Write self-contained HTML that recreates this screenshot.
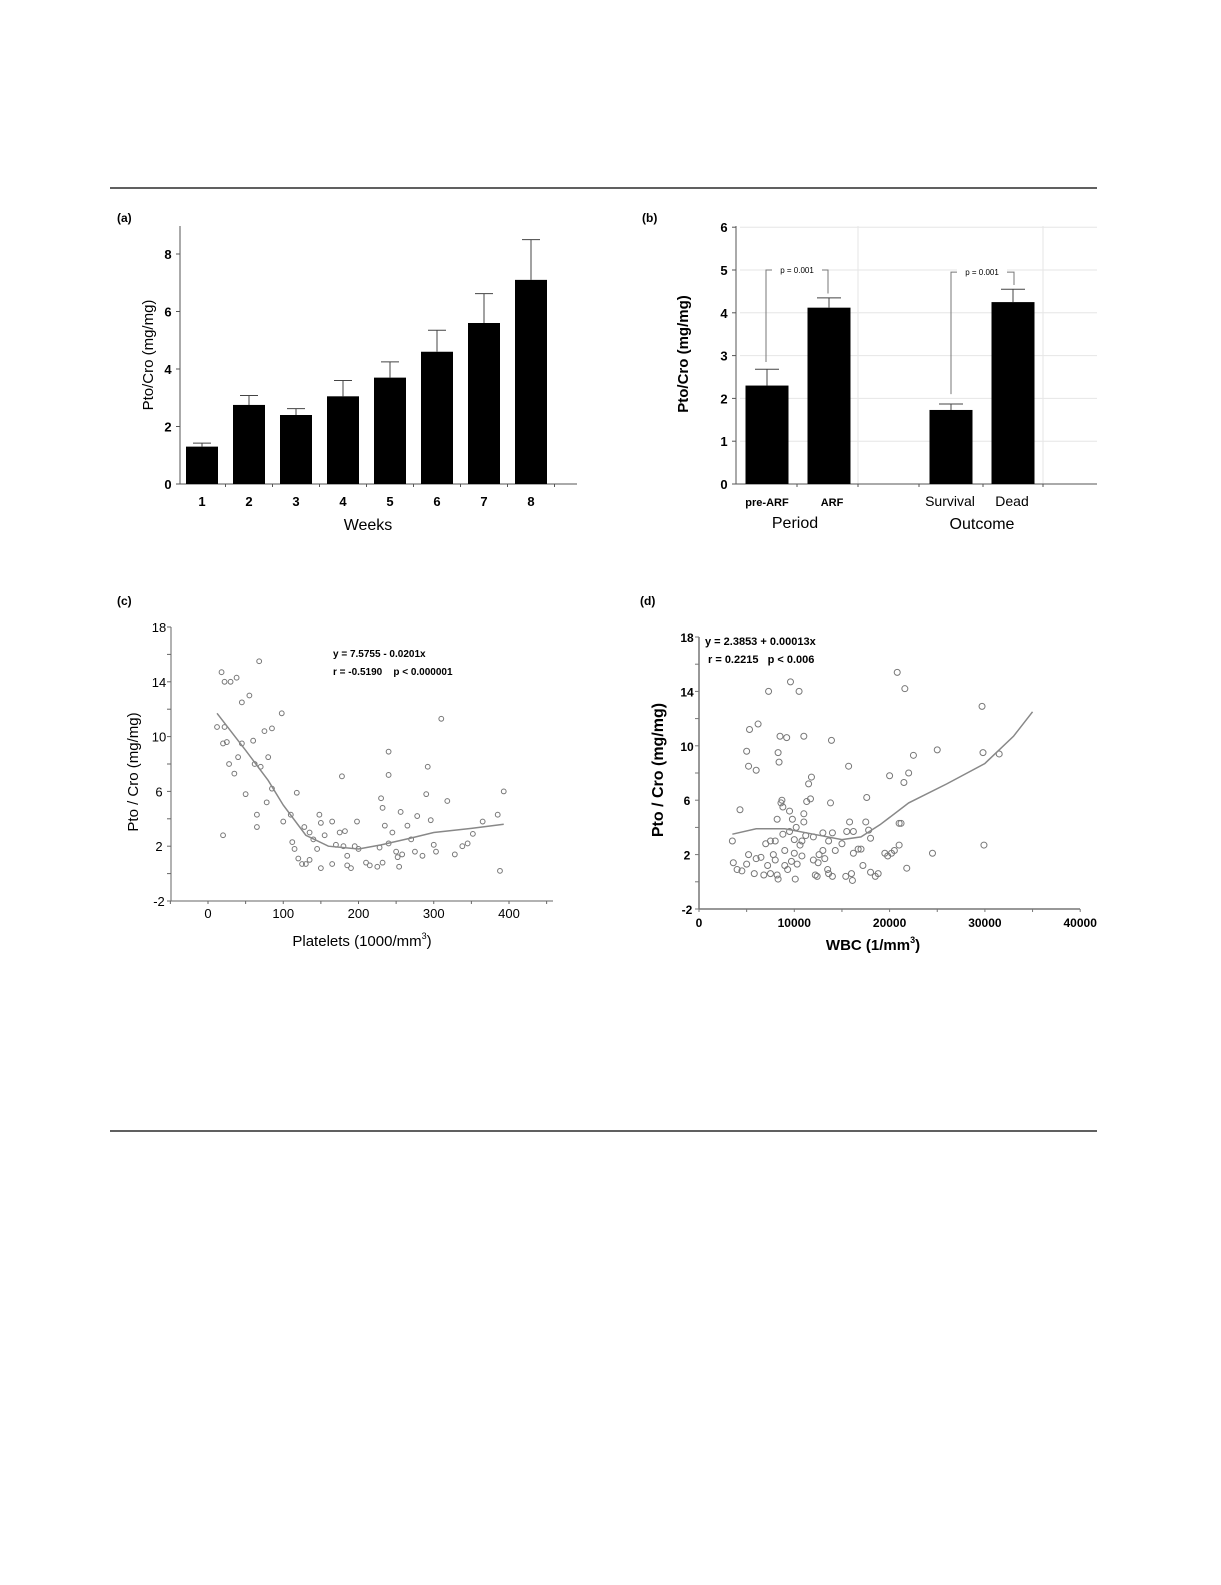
<!DOCTYPE html>
<html><head><meta charset="utf-8"><style>
html,body{margin:0;padding:0;background:#fff;}
svg{display:block;font-family:"Liberation Sans",Arial,sans-serif;}
</style></head><body>
<svg id="s" width="1221" height="1585" viewBox="0 0 1221 1585" xmlns="http://www.w3.org/2000/svg">
<rect width="1221" height="1585" fill="#fff"/>
<line x1="110" y1="188" x2="1097" y2="188" stroke="#000" stroke-width="1.2"/>
<line x1="110" y1="1131" x2="1097" y2="1131" stroke="#000" stroke-width="1.2"/>
<g id="g"></g>
</svg>
<script>
var g=document.getElementById('g'),h='';
function L(x1,y1,x2,y2,c,w){h+='<line x1="'+x1+'" y1="'+y1+'" x2="'+x2+'" y2="'+y2+'" stroke="'+(c||'#000')+'" stroke-width="'+(w||1)+'"/>';}
function T(x,y,t,s,a,b,extra){h+='<text x="'+x+'" y="'+y+'" font-size="'+s+'" text-anchor="'+(a||'middle')+'"'+(b?' font-weight="bold"':'')+(extra||'')+'>'+t+'</text>';}
function R(x,y,w,hh){h+='<rect x="'+x+'" y="'+y+'" width="'+w+'" height="'+hh+'" fill="#000"/>';}
// Panel a
var ax=180,a0=484,au=28.75;
T(117,222,'(a)',12,'start',true);
L(ax,226,ax,a0,'#555');L(ax,a0,577,a0,'#555');
[0,2,4,6,8].forEach(function(v){var y=a0-v*au;L(ax-4,y,ax,y,'#555');T(ax-12,y+5,v,13,'middle',true);});
var av=[1.3,2.75,2.4,3.05,3.7,4.6,5.6,7.1],ae=[1.42,3.08,2.62,3.6,4.25,5.35,6.62,8.5];
for(var i=0;i<8;i++){var c=202+i*47;R(c-16,a0-av[i]*au,32,av[i]*au);L(c,a0-av[i]*au,c,a0-ae[i]*au,'#444');L(c-9,a0-ae[i]*au,c+9,a0-ae[i]*au,'#444');T(c,506,i+1,13,'middle',true);L(c+23.5,a0,c+23.5,a0+3,'#555');}
T(368,530,'Weeks',16);
T(0,0,'Pto/Cro (mg/mg)',15,'middle',false,' transform="translate(153,355) rotate(-90)"');
// Panel b
var bx=736,b0=484,bu=42.8;
T(642,222,'(b)',12,'start',true);
for(var v=1;v<=6;v++){L(740,b0-v*bu,1097,b0-v*bu,'#e6e6e6');}
L(858,226,858,b0,'#e6e6e6');L(1043,226,1043,b0,'#e6e6e6');
L(bx,226,bx,b0,'#555');L(bx,b0,1097,b0,'#555');
for(var v=0;v<=6;v++){var y=b0-v*bu;L(bx-4,y,bx,y,'#555');T(bx-12,y+5,v,13,'middle',true);}
[797,858,919,983,1043].forEach(function(x){L(x,b0,x,b0+3,'#555');});
var bc=[767,829,951,1013],bv=[2.3,4.12,1.73,4.25],be=[2.68,4.35,1.87,4.55];
for(var i=0;i<4;i++){var c=bc[i];R(c-21.5,b0-bv[i]*bu,43,bv[i]*bu);L(c,b0-bv[i]*bu,c,b0-be[i]*bu,'#444');L(c-12,b0-be[i]*bu,c+12,b0-be[i]*bu,'#444');}
var Y=function(v){return b0-v*bu;};
h+='<polyline points="766,'+Y(2.85)+' 766,'+Y(5.0)+' 828,'+Y(5.0)+' 828,'+Y(4.45)+'" fill="none" stroke="#777"/>';
h+='<polyline points="951,'+Y(2.1)+' 951,'+Y(4.95)+' 1014,'+Y(4.95)+' 1014,'+Y(4.65)+'" fill="none" stroke="#777"/>';
h+='<rect x="772" y="'+(Y(5.0)-5)+'" width="50" height="10" fill="#fff"/><rect x="957" y="'+(Y(4.95)-5)+'" width="50" height="10" fill="#fff"/>';
T(797,Y(5.0)+3,'p = 0.001',8);T(982,Y(4.95)+3,'p = 0.001',8);
T(767,506,'pre-ARF',11,'middle',true);T(832,506,'ARF',11,'middle',true);
T(950,506,'Survival',14);T(1012,506,'Dead',14);
T(795,528,'Period',16);T(982,529,'Outcome',16);
T(0,0,'Pto/Cro (mg/mg)',15,'middle',true,' transform="translate(688,354) rotate(-90)"');
// Panel c
var cx=171,cy18=627,cu=13.7,cx0=208,cxu=0.7525;
function CX(v){return cx0+v*cxu;}function CY(v){return cy18+(18-v)*cu;}
T(117,605,'(c)',12,'start',true);
L(cx,CY(18),cx,CY(-2),'#666');L(cx,CY(-2),553,CY(-2),'#666');
for(var v=-2;v<=18;v+=2){L(cx-4,CY(v),cx,CY(v),'#666');if((v+2)%4==0)T(cx-12,CY(v)+5,v,13);}
for(var v=-50;v<=450;v+=50){L(CX(v),CY(-2),CX(v),CY(-2)+3,'#666');if(v>=0&&v<=400&&v%100==0)T(CX(v),918,v,13);}
T(362,946,'Platelets (1000/mm<tspan font-size="9" dy="-7">3</tspan><tspan dy="7">)</tspan>',15);
T(0,0,'Pto / Cro (mg/mg)',15,'middle',false,' transform="translate(138,772) rotate(-90)"');
T(333,657,'y = 7.5755 - 0.0201x',10,'start',true);T(333,675,'r = -0.5190&#160;&#160;&#160;&#160;p &lt; 0.000001',10,'start',true);
var pc=[[18,14.7],[22,14],[30,14],[38,14.3],[45,12.5],[55,13],[68,15.5],[98,11.7],[12,10.7],[22,10.7],[20,9.5],[25,9.6],[45,9.5],[40,8.5],[28,8],[35,7.3],[60,9.7],[75,10.4],[85,10.6],[80,8.5],[70,7.8],[62,8],[50,5.8],[78,5.2],[85,6.2],[65,4.3],[65,3.4],[20,2.8],[100,3.8],[110,4.3],[118,5.9],[112,2.3],[115,1.8],[120,1.1],[125,0.7],[130,0.7],[135,1],[128,3.4],[135,3],[140,2.5],[145,1.8],[148,4.3],[150,3.7],[150,0.4],[155,2.8],[165,3.8],[165,0.7],[170,2.1],[175,3],[178,7.1],[182,3.1],[180,2],[185,1.3],[185,0.6],[190,0.4],[195,2],[198,3.8],[200,1.8],[210,0.8],[215,0.6],[225,0.5],[228,1.9],[230,5.5],[232,4.8],[232,0.8],[235,3.5],[240,8.9],[240,7.2],[240,2.2],[245,3],[250,1.6],[252,1.2],[254,0.5],[256,4.5],[258,1.4],[265,3.5],[270,2.5],[275,1.6],[278,4.2],[285,1.3],[290,5.8],[292,7.8],[296,3.9],[300,2.1],[303,1.6],[310,11.3],[318,5.3],[328,1.4],[338,2],[345,2.2],[352,2.9],[365,3.8],[385,4.3],[388,0.2],[393,6]];
pc.forEach(function(p){h+='<circle cx="'+CX(p[0])+'" cy="'+CY(p[1])+'" r="2.4" fill="none" stroke="#777" stroke-width="1"/>';});
var cc=[[12,11.7],[50,9],[80,6.8],[100,5],[130,2.8],[160,2.0],[200,1.8],[230,2.1],[270,2.6],[300,3.0],[350,3.3],[393,3.6]];
h+='<polyline fill="none" stroke="#888" stroke-width="1.5" points="'+cc.map(function(p){return CX(p[0])+','+CY(p[1]);}).join(' ')+'"/>';
// Panel d
var dx=699,dy18=637,du=13.6,dxu=9.53;
function DX(v){return dx+v*dxu;}function DY(v){return dy18+(18-v)*du;}
T(640,605,'(d)',12,'start',true);
L(dx,DY(18),dx,DY(-2),'#777',1.5);L(dx,DY(-2),1080,DY(-2),'#777',1.5);
for(var v=-2;v<=18;v+=2){L(dx-4,DY(v),dx,DY(v),'#777');if((v+2)%4==0)T(dx-12,DY(v)+5,v,12,'middle',true);}
for(var v=0;v<=40;v+=5){L(DX(v),DY(-2),DX(v),DY(-2)+3,'#777');if(v%10==0)T(DX(v),927,v==0?'0':v*1000,12,'middle',true);}
T(873,950,'WBC (1/mm<tspan font-size="9" dy="-7">3</tspan><tspan dy="7">)</tspan>',15,'middle',true);
T(0,0,'Pto / Cro (mg/mg)',16,'middle',true,' transform="translate(663,770) rotate(-90)"');
T(705,645,'y = 2.3853 + 0.00013x',11,'start',true);T(708,663,'r = 0.2215&#160;&#160;&#160;p &lt; 0.006',11,'start',true);
var pd=[[3.5,3],[3.6,1.4],[4,0.9],[4.5,0.8],[4.3,5.3],[5,1.3],[5.2,2],[5,9.6],[5.2,8.5],[5.3,11.2],[5.8,0.6],[6,1.7],[6,8.2],[6.2,11.6],[6.5,1.8],[6.8,0.5],[7,2.8],[7.2,1.2],[7.3,14],[7.5,3],[7.5,0.6],[7.8,2],[8,3],[8,1.6],[8.2,4.6],[8.2,0.5],[8.3,0.2],[8.3,9.5],[8.4,8.8],[8.5,10.7],[8.6,5.8],[8.7,6],[8.8,5.5],[8.8,3.5],[9,2.3],[9,1.2],[9.2,10.6],[9.3,0.9],[9.5,3.7],[9.5,5.2],[9.6,14.7],[9.7,1.5],[9.8,4.6],[10,3.1],[10,2.1],[10.1,0.2],[10.2,4],[10.3,1.3],[10.5,14],[10.6,2.7],[10.8,3],[10.8,1.9],[11,10.7],[11,5],[11,4.4],[11.2,3.4],[11.3,5.9],[11.5,7.2],[11.7,6.1],[11.8,7.7],[12,3.3],[12,1.6],[12.2,0.5],[12.4,0.4],[12.5,1.4],[12.6,2],[13,2.3],[13,3.6],[13.2,1.7],[13.5,0.9],[13.6,3],[13.6,0.6],[13.8,5.8],[13.9,10.4],[14,3.6],[14,0.4],[14.3,2.3],[15,2.8],[15.4,0.4],[15.5,3.7],[15.7,8.5],[15.8,4.4],[16,0.6],[16.1,0.1],[16.2,2.1],[16.2,3.7],[16.7,2.4],[17,2.4],[17.2,1.2],[17.5,4.4],[17.6,6.2],[17.8,3.8],[18,3.2],[18,0.7],[18.5,0.4],[18.8,0.6],[19.5,2.1],[19.8,1.9],[20,7.8],[20.2,2.1],[20.5,2.3],[20.8,15.4],[21,4.3],[21,2.7],[21.2,4.3],[21.5,7.3],[21.6,14.2],[21.8,1],[22,8],[22.5,9.3],[24.5,2.1],[25,9.7],[29.7,12.9],[29.8,9.5],[29.9,2.7],[31.5,9.4]];
pd.forEach(function(p){h+='<circle cx="'+DX(p[0])+'" cy="'+DY(p[1])+'" r="3" fill="none" stroke="#777" stroke-width="1"/>';});
var dc=[[3.5,3.5],[6,3.9],[9,3.9],[12,3.5],[15,3.1],[17,3.3],[19,4.2],[22,5.8],[26,7.2],[30,8.7],[33,10.7],[35,12.5]];
h+='<polyline fill="none" stroke="#888" stroke-width="1.5" points="'+dc.map(function(p){return DX(p[0])+','+DY(p[1]);}).join(' ')+'"/>';
g.innerHTML=h;
</script>
</body></html>
